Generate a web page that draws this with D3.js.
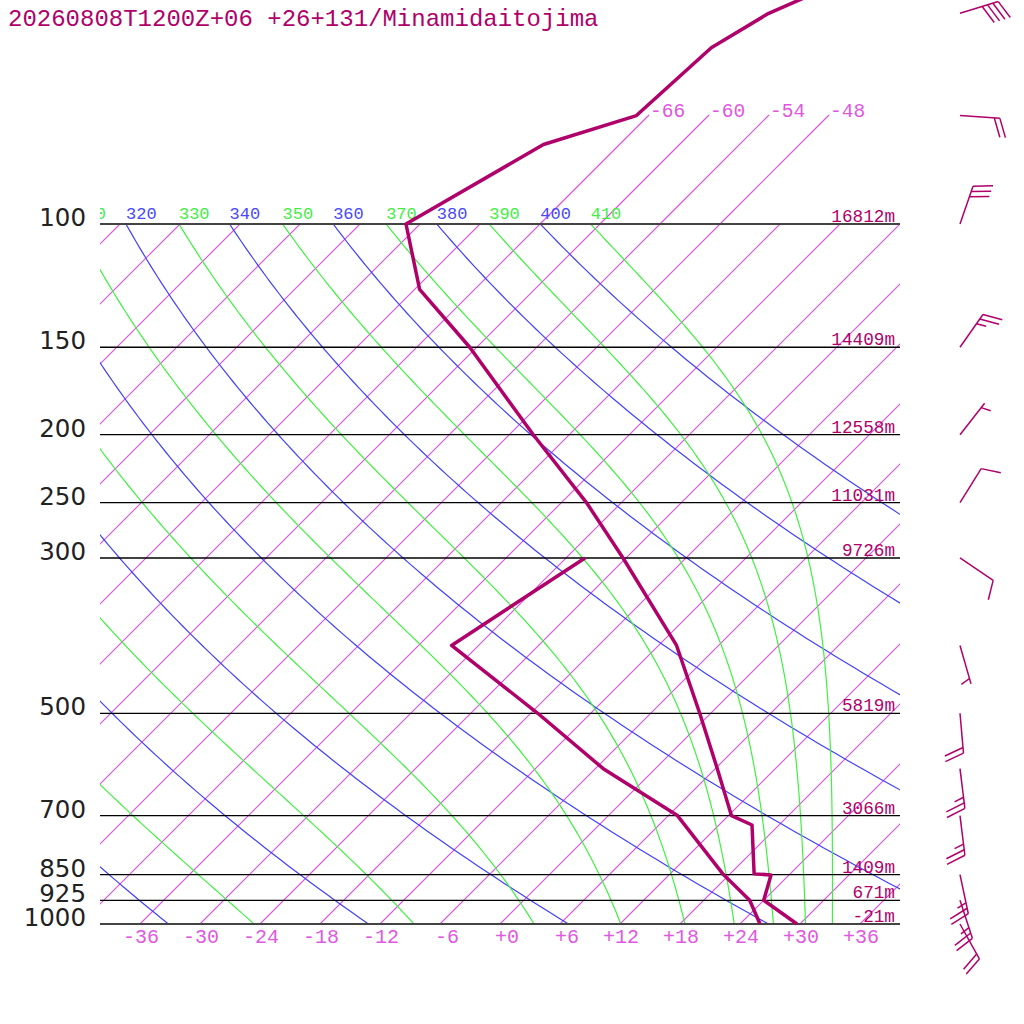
<!DOCTYPE html>
<html>
<head>
<meta charset="utf-8">
<script src="https://cdn.jsdelivr.net/npm/d3@7"></script>
<style>
body { margin: 0; background: #fff; }
.mono { font-family: "Liberation Mono", "DejaVu Sans Mono", monospace; }
.iso { fill: none; stroke: #dc4ce4; stroke-width: 1.1px; }
.dry { fill: none; stroke: #4040ff; stroke-width: 1.2px; }
.moist { fill: none; stroke: #40f040; stroke-width: 1.2px; }
</style>
</head>
<body>
<div id="chart"></div>
<script>
var title = "20260808T1200Z+06 +26+131/Minamidaitojima";

// pressure levels drawn as horizontal lines, with geopotential heights
var levels = [100, 150, 200, 250, 300, 500, 700, 850, 925, 1000];
var heights = ["16812m", "14409m", "12558m", "11031m", "9726m", "5819m", "3066m", "1409m", "671m", "-21m"];

// temperature profile (hPa, degC)
var tempP = [40, 50, 56, 70, 77, 100, 124, 150, 200, 250, 300, 400, 500, 600, 700, 722, 848, 851, 925, 1000];
var tempT = [-55.4, -64.2, -66.5, -67.2, -73.6, -79.4, -71.5, -60.7, -45.6, -33.5, -24.3, -10.2, -1.1, 6.2, 12.3, 15.3, 20.4, 22.2, 24.0, 29.7];

// dewpoint profile
var dewP = [300, 400, 500, 600, 700, 850, 925, 1000];
var dewT = [-28.1, -32.7, -17.3, -5.2, 6.9, 17.4, 22.6, 26.0];

// winds (direction from, speed kt)
var windP = [50, 70, 100, 150, 200, 250, 300, 400, 500, 600, 700, 850, 925, 1000];
var windDir = [73, 94, 19, 35, 38, 32, 124, 164, 175, 173, 173, 168, 162, 151];
var windSpd = [40, 20, 30, 25, 5, 10, 10, 5, 20, 25, 25, 25, 25, 20];

// reference lines
var tempTicks = [-36, -30, -24, -18, -12, -6, 0, 6, 12, 18, 24, 30, 36];
var upperIsotherms = [-66, -60, -54, -48];
var dryTheta = [240, 260, 280, 300, 320, 340, 360, 380, 400];
var moistThetaE = [230, 250, 270, 290, 310, 330, 350, 370, 390, 410];

var width = 1024, height = 1024;
var plotL = 100, plotR = 900, plotT = 224, plotB = 924;

var svg = d3.select("#chart")
    .append("svg")
    .attr("width", width)
    .attr("height", height);

var y = d3.scaleLog().domain([1000, 100]).range([plotB, plotT]);
var xT = d3.scaleLinear().domain([-40, 40]).range([plotL, plotR]);

// skewed x position: isotherms lean 45 degrees
function sx(T, p) { return xT(T) + (plotB - y(p)); }

var purple = "#b0006a";
var isoLabel = "#e058e0";
var blue = "#4848ff";
var green = "#44ee44";

var defs = svg.append("defs");
defs.append("clipPath").attr("id", "plot")
    .append("rect").attr("x", plotL).attr("y", plotT).attr("width", plotR - plotL).attr("height", plotB - plotT);
defs.append("clipPath").attr("id", "labels")
    .append("rect").attr("x", plotL).attr("y", 180).attr("width", plotR - plotL).attr("height", 60);

var grid = svg.append("g").attr("clip-path", "url(#plot)");

// pressures for drawing curved lines
var pSteps = d3.range(0, 121).map(function (i) { return 1000 * Math.pow(0.1, i / 120); });

var line = d3.line()
    .x(function (d) { return d[0]; })
    .y(function (d) { return d[1]; });

// isotherms
d3.range(-108, 42, 6).forEach(function (T) {
    grid.append("path")
        .attr("class", "iso")
        .attr("d", line([[sx(T, 1000), y(1000)], [sx(T, 100), y(100)]]));
});

// upper isotherm extensions with labels
var upperY = 115;
upperIsotherms.forEach(function (T) {
    var x1 = sx(T, 100);
    var x2 = x1 + (y(100) - upperY);
    svg.append("path")
        .attr("class", "iso")
        .attr("d", line([[x1, y(100)], [x2, upperY]]));
    svg.append("text").attr("class", "mono")
        .attr("x", x2 + 1).attr("y", upperY + 2)
        .attr("font-size", 19.5)
        .attr("fill", isoLabel)
        .text(T);
});

// dry adiabats
dryTheta.forEach(function (th) {
    var pts = pSteps.map(function (p) {
        var T = th * Math.pow(p / 1000, 0.2857) - 273.15;
        return [sx(T, p), y(p)];
    });
    grid.append("path").attr("class", "dry").attr("d", line(pts));
});

// pseudo-adiabats (constant theta-e, Bolton 1980)
function thetaE(TK, p) {
    var es = 6.112 * Math.exp(17.67 * (TK - 273.15) / (TK - 29.65));
    if (es >= p * 0.9) return 1e9;
    var r = 622 * es / (p - es);
    return TK * Math.pow(1000 / p, 0.2854 * (1 - 0.00028 * r)) *
        Math.exp((3.376 / TK - 0.00254) * r * (1 + 0.00081 * r));
}
function solveT(the, p) {
    var lo = 120, hi = 330;
    for (var i = 0; i < 50; i++) {
        var mid = (lo + hi) / 2;
        if (thetaE(mid, p) > the) hi = mid; else lo = mid;
    }
    return (lo + hi) / 2 - 273.15;
}
moistThetaE.forEach(function (the) {
    var pts = pSteps.map(function (p) {
        return [sx(solveT(the, p), p), y(p)];
    });
    grid.append("path").attr("class", "moist").attr("d", line(pts));
});

// theta labels along the 100 hPa line (only those reaching into the plot)
var lab = svg.append("g").attr("clip-path", "url(#labels)");
dryTheta.concat(moistThetaE).forEach(function (th) {
    var isDry = dryTheta.indexOf(th) >= 0;
    var T = isDry ? th * Math.pow(0.1, 0.2857) - 273.15 : solveT(th, 100);
    var lx = sx(T, 100);
    if (lx + 32 < plotL) return;
    lab.append("text").attr("class", "mono")
        .attr("x", lx).attr("y", y(100) - 5)
        .attr("font-size", 17)
        .attr("fill", isDry ? blue : green)
        .text(th);
});

// pressure lines
levels.forEach(function (p, i) {
    var edge = (p === 100 || p === 1000);
    svg.append("line")
        .attr("x1", plotL).attr("x2", plotR)
        .attr("y1", y(p)).attr("y2", y(p))
        .attr("stroke", edge ? "#444" : "#000")
        .attr("stroke-width", edge ? 2 : 1.3);
    svg.append("text")
        .attr("x", 86).attr("y", y(p) + 2)
        .attr("text-anchor", "end")
        .attr("font-family", "DejaVu Sans")
        .attr("font-size", 24.5)
        .attr("fill", "#222")
        .text(p);
    svg.append("text").attr("class", "mono")
        .attr("x", 895).attr("y", y(p) - 2)
        .attr("text-anchor", "end")
        .attr("font-size", 17.7)
        .attr("fill", purple)
        .text(heights[i]);
});

// temperature tick labels
tempTicks.forEach(function (T) {
    svg.append("text").attr("class", "mono")
        .attr("x", xT(T) + 19).attr("y", 943)
        .attr("text-anchor", "end")
        .attr("font-size", 20)
        .attr("fill", isoLabel)
        .text(T > 0 ? "+" + T : (T === 0 ? "+0" : T));
});

// profiles
var tempPts = tempP.map(function (p, i) { return [sx(tempT[i], p), y(p)]; });
var dewPts = dewP.map(function (p, i) { return [sx(dewT[i], p), y(p)]; });
[tempPts, dewPts].forEach(function (pts) {
    svg.append("path").attr("d", line(pts))
        .attr("fill", "none")
        .attr("stroke", purple)
        .attr("stroke-width", 3.5)
        .attr("stroke-linejoin", "round");
});

// wind barbs
var barbG = svg.append("g")
    .attr("stroke", purple).attr("stroke-width", 1.5).attr("fill", "none");
var rad = Math.PI / 180;
windP.forEach(function (p, i) {
    var x0 = 960, y0 = y(p);
    var a = windDir[i] * rad;
    var ux = Math.sin(a), uy = -Math.cos(a);
    var L = 40;
    var tx = x0 + L * ux, ty = y0 + L * uy;
    barbG.append("line").attr("x1", x0).attr("y1", y0).attr("x2", tx).attr("y2", ty);
    var b = 70 * rad;
    var bx = ux * Math.cos(b) - uy * Math.sin(b);
    var by = ux * Math.sin(b) + uy * Math.cos(b);
    var full = Math.floor(windSpd[i] / 10);
    var half = windSpd[i] % 10 >= 5;
    var pos = 0;
    for (var k = 0; k < full; k++) {
        var bxs = tx - pos * 5.6 * ux, bys = ty - pos * 5.6 * uy;
        barbG.append("line").attr("x1", bxs).attr("y1", bys)
            .attr("x2", bxs + 20 * bx).attr("y2", bys + 20 * by);
        pos++;
    }
    if (half) {
        if (full === 0) pos = 1;
        var hx = tx - pos * 5.6 * ux, hy = ty - pos * 5.6 * uy;
        barbG.append("line").attr("x1", hx).attr("y1", hy)
            .attr("x2", hx + 10 * bx).attr("y2", hy + 10 * by);
    }
});

// title
svg.append("text").attr("class", "mono")
    .attr("x", 8).attr("y", 26)
    .attr("font-size", 24)
    .attr("fill", purple)
    .text(title);
</script>
</body>
</html>
